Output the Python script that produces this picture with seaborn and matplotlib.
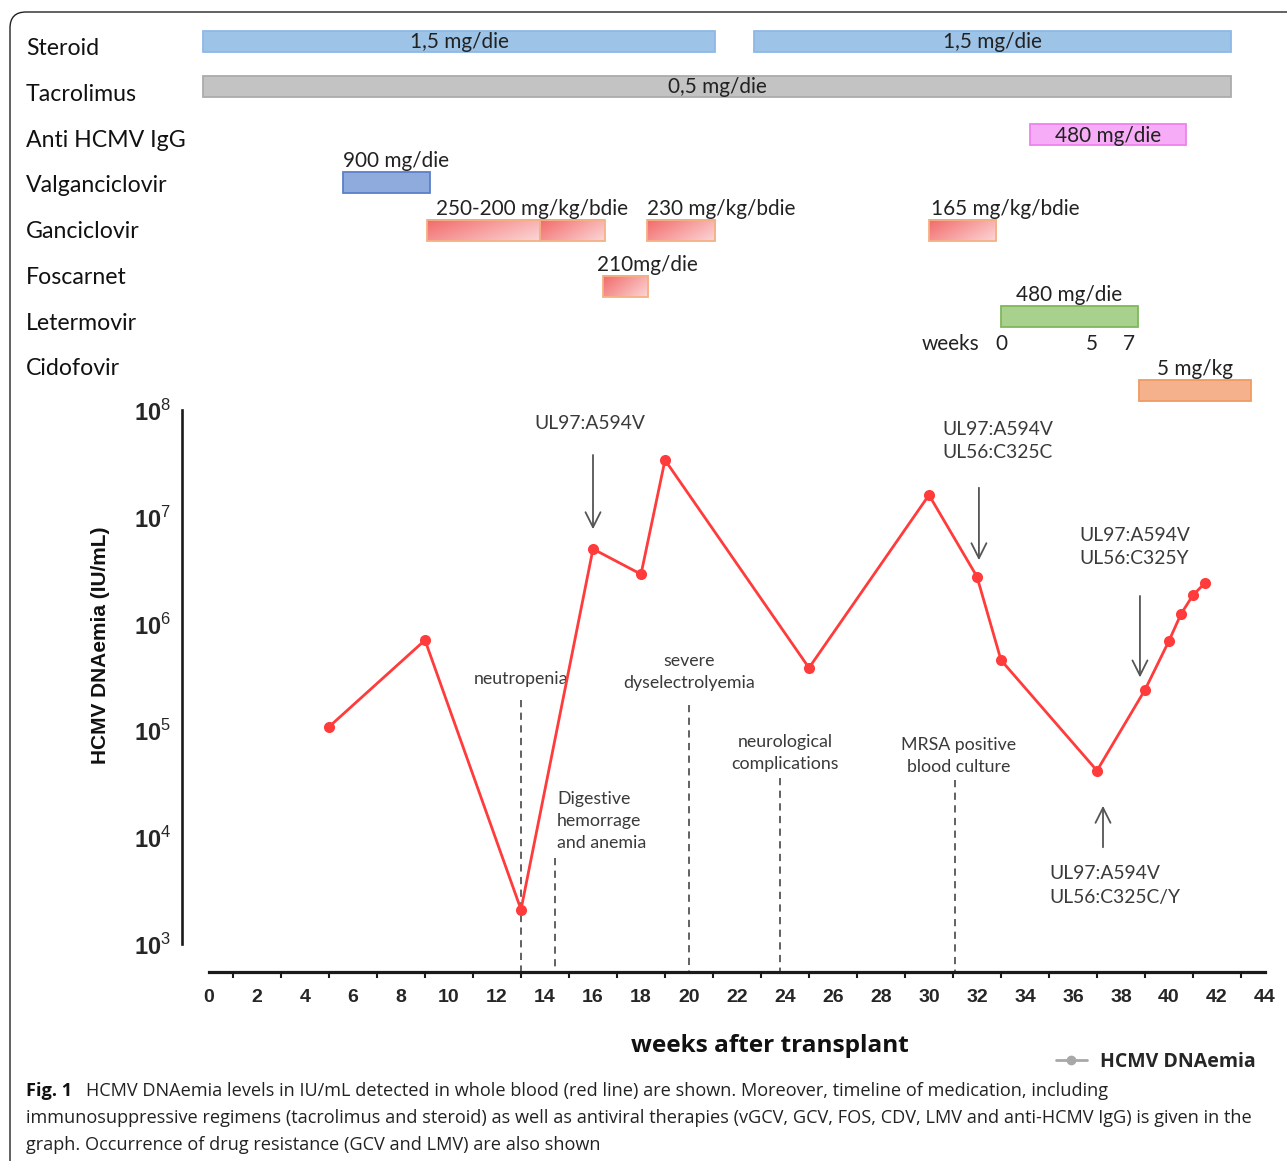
import numpy as np
import pandas as pd
import matplotlib
matplotlib.use("Agg")
import matplotlib.pyplot as plt
import seaborn as sns
from matplotlib.patches import Rectangle, FancyBboxPatch
from matplotlib.lines import Line2D
from matplotlib.colors import LinearSegmentedColormap
from matplotlib.ticker import MultipleLocator, LogLocator, NullLocator, FuncFormatter
import matplotlib.transforms as mtrans

# ---------------- data ----------------
weeks = [5, 9, 13, 16, 18, 19, 25, 30, 32, 33, 37, 39, 40, 40.5, 41, 41.5]
dnaemia = [1.08e5, 7.0e5, 2.1e3, 5.0e6, 2.9e6, 3.4e7, 3.85e5, 1.6e7, 2.75e6,
           4.55e5, 4.2e4, 2.4e5, 6.9e5, 1.23e6, 1.85e6, 2.4e6]

drugs = ["Steroid", "Tacrolimus", "Anti HCMV IgG", "Valganciclovir",
         "Ganciclovir", "Foscarnet", "Letermovir", "Cidofovir"]
bar_drug = ["Steroid", "Steroid", "Tacrolimus", "Anti HCMV IgG", "Valganciclovir",
            "Ganciclovir", "Ganciclovir", "Ganciclovir", "Ganciclovir",
            "Foscarnet", "Letermovir", "Cidofovir"]
bar_start = [-0.25, 22.7, -0.25, 34.2, 5.6, 9.1, 13.8, 18.25, 30.0, 16.4, 33.0, 38.75]
bar_end = [21.1, 42.6, 42.6, 40.7, 9.2, 13.8, 16.5, 21.1, 32.8, 18.3, 38.7, 43.4]
bar_dose = ["1,5 mg/die", "1,5 mg/die", "0,5 mg/die", "480 mg/die", "900 mg/die",
            "250-200 mg/kg/bdie", "", "230 mg/kg/bdie", "165 mg/kg/bdie",
            "210mg/die", "480 mg/die", "5 mg/kg"]

letermovir_week_labels = ["0", "5", "7"]
letermovir_week_values = [0, 5, 7]

event_weeks = [13, 14.4, 20, 23.8, 31.1]
event_labels = ["neutropenia", "Digestive\nhemorrage\nand anemia",
                "severe\ndyselectrolyemia", "neurological\ncomplications",
                "MRSA positive\nblood culture"]

mutation_weeks = [16, 32.08, 38.79, 37.25]
mutation_labels = ["UL97:A594V", "UL97:A594V\nUL56:C325C",
                   "UL97:A594V\nUL56:C325Y", "UL97:A594V\nUL56:C325C/Y"]

x_ticks = list(range(0, 45, 2))
y_decades = [3, 4, 5, 6, 7, 8]

caption_bold = "Fig. 1"
caption_lines = [
    "HCMV DNAemia levels in IU/mL detected in whole blood (red line) are shown. Moreover, timeline of medication, including",
    "immunosuppressive regimens (tacrolimus and steroid) as well as antiviral therapies (vGCV, GCV, FOS, CDV, LMV and anti-HCMV IgG) is given in the",
    "graph. Occurrence of drug resistance (GCV and LMV) are also shown",
]

# ---------------- styles ----------------
W, H, DPI = 1287, 1161, 100
sns.set_theme(style="white")
plt.rcParams["font.family"] = ["Lato", "DejaVu Sans"]
plt.rcParams["mathtext.fontset"] = "custom"
plt.rcParams["mathtext.rm"] = "Liberation Sans"
plt.rcParams["mathtext.bf"] = "Liberation Sans:bold"

drug_style = {
    "Steroid": dict(fc="#9DC3E6", ec="#8DB9E8", off=-0.12, grad=False),
    "Tacrolimus": dict(fc="#C3C3C3", ec="#ABABAB", off=-0.14, grad=False),
    "Anti HCMV IgG": dict(fc="#F7ACF7", ec="#EE82EE", off=-0.08, grad=False),
    "Valganciclovir": dict(fc="#8FAADC", ec="#5B7FC9", off=-0.03, grad=False),
    "Ganciclovir": dict(fc="#F79A9A", ec="#F4B183", off=0.01, grad=True),
    "Foscarnet": dict(fc="#F79A9A", ec="#F4B183", off=0.24, grad=True),
    "Letermovir": dict(fc="#A9D18E", ec="#7FB85A", off=-0.11, grad=False),
    "Cidofovir": dict(fc="#F5B18C", ec="#F09A62", off=0.51, grad=False),
}
dose_place = ["in", "in", "in", "in", "left", "left", None, "left", "left", "left", "center", "center"]
dose_dx = [0, 0, 0, 0, 0, 0.37, 0, 0, 0.08, -0.25, 0, 0]
BAR_H = 0.46
TXT = "#3A3A3A"

fig = plt.figure(figsize=(W / DPI, H / DPI), dpi=DPI)
renderer = fig.canvas.get_renderer()


def fit(t, target_px):
    bb = t.get_window_extent(renderer)
    t.set_fontsize(t.get_fontsize() * target_px / bb.width)
    return t.get_fontsize()


L, R = 209 / W, 1265 / W
ax = fig.add_axes([L, 1 - 944 / H, R - L, (944 - 410) / H])
axm = fig.add_axes([L, 1 - 410 / H, R - L, 410 / H])

# ---------------- medication timeline ----------------
axm.set_xlim(0, 44)
axm.set_ylim(7.943, -1.028)
axm.axis("off")
row_of = {d: i for i, d in enumerate(drugs)}
lab_tf = mtrans.blended_transform_factory(fig.transFigure, axm.transData)

t0 = axm.text(26 / W, 3, "Valganciclovir", transform=lab_tf, fontsize=15)
row_fs = fit(t0, 141)
t0.remove()
for d in drugs:
    axm.text(26 / W, row_of[d] + 0.04, d, transform=lab_tf, fontsize=row_fs,
             ha="left", va="center", color="#111111")

cmap_g = LinearSegmentedColormap.from_list("g", ["#F26A6A", "#FCD6D6"])
gx, gy = np.meshgrid(np.linspace(0, 1, 80), np.linspace(0, 1, 20))
grad = 0.65 * gx + 0.35 * gy

td = axm.text(0, 0, "250-200 mg/kg/bdie", fontsize=15)
dose_fs = fit(td, 193)
td.remove()

for i, d in enumerate(bar_drug):
    st = drug_style[d]
    yc = row_of[d] + st["off"]
    x0, x1 = bar_start[i], bar_end[i]
    rect = Rectangle((x0, yc - BAR_H / 2), x1 - x0, BAR_H,
                     fc=("none" if st["grad"] else st["fc"]), ec=st["ec"], lw=1.3,
                     clip_on=False, zorder=3)
    axm.add_patch(rect)
    if st["grad"]:
        im = axm.imshow(grad, cmap=cmap_g, extent=(x0, x1, yc + BAR_H / 2, yc - BAR_H / 2),
                        origin="upper", aspect="auto", zorder=2, clip_on=False)
        clip = Rectangle((x0, yc - BAR_H / 2), x1 - x0, BAR_H, transform=axm.transData)
        im.set_clip_path(clip)
    place = dose_place[i]
    if place == "in":
        axm.text((x0 + x1) / 2, yc + 0.02, bar_dose[i], fontsize=dose_fs, ha="center",
                 va="center", color="#222222", zorder=4)
    elif place == "left":
        axm.text(x0 + dose_dx[i], yc - 0.47, bar_dose[i], fontsize=dose_fs, ha="left",
                 va="center", color="#222222", zorder=4)
    elif place == "center":
        axm.text((x0 + x1) / 2, yc - 0.47, bar_dose[i], fontsize=dose_fs, ha="center",
                 va="center", color="#222222", zorder=4)
axm.set_xlim(0, 44)
axm.set_ylim(7.943, -1.028)

# letermovir week scale
lmv_i = bar_drug.index("Letermovir")
lmv0 = bar_start[lmv_i]
lmv_scale = 0.76
axm.text(lmv0 - 0.9, 6.5, "weeks", fontsize=dose_fs, ha="right", va="center", color="#222222")
for lab, v in zip(letermovir_week_labels, letermovir_week_values):
    axm.text(lmv0 + v * lmv_scale, 6.5, lab, fontsize=dose_fs, ha="center", va="center",
             color="#222222")

# ---------------- DNAemia line ----------------
df = pd.DataFrame({"week": weeks, "dnaemia": dnaemia})
ax.set_yscale("log")
sns.lineplot(data=df, x="week", y="dnaemia", ax=ax, color="#FF3B3B", lw=2.0,
             marker="o", markersize=8, markeredgewidth=0, legend=False, zorder=5)
ax.set_xlim(0, 44)
ax.set_ylim(1e3, 1e8)
for s in ["top", "right"]:
    ax.spines[s].set_visible(False)
ax.spines["left"].set_position(("outward", 27 * 0.72))
ax.spines["bottom"].set_position(("outward", 28 * 0.72))
ax.spines["left"].set_linewidth(1.9)
ax.spines["bottom"].set_linewidth(2.3)
ax.spines["left"].set_color("#1A1A1A")
ax.spines["bottom"].set_color("#1A1A1A")

ax.set_xticks(x_ticks)
ax.xaxis.set_minor_locator(MultipleLocator(1))
ax.tick_params(axis="x", which="major", direction="out", length=7, width=1.8,
               color="#1A1A1A", pad=5, labelsize=14)
ax.tick_params(axis="x", which="minor", direction="out", length=4, width=1.5,
               color="#1A1A1A", bottom=True)
for lbl in ax.get_xticklabels():
    lbl.set_fontfamily("Liberation Sans")
    lbl.set_fontweight("bold")
ax.set_yticks([10.0 ** d for d in y_decades])
ax.yaxis.set_minor_locator(NullLocator())
ax.yaxis.set_major_formatter(FuncFormatter(
    lambda v, p: r"$\mathbf{10}^{\mathrm{%d}}$" % round(np.log10(v))))
ax.tick_params(axis="y", which="major", direction="out", length=6, width=1.8,
               color="#1A1A1A", pad=2, labelsize=17)
ax.tick_params(axis="y", which="minor", left=False)
ax.set_xlabel("")
ax.set_ylabel("")
ax.grid(False)

ax.text((100 - 209) / 1056, (944 - 645) / 534, "HCMV DNAemia (IU/mL)", transform=ax.transAxes,
        rotation=90, ha="center", va="center", fontsize=15, fontweight="bold",
        family="Liberation Sans", color="#111111")
tx = ax.text((770 - 209) / 1056, (944 - 1046) / 534, "weeks after transplant",
             transform=ax.transAxes, ha="center", va="center", fontsize=17,
             fontweight="bold", family="Open Sans", color="#111111")
fit(tx, 278)

bt = mtrans.blended_transform_factory(ax.transData, ax.transAxes)

# events (dashed lines + labels)
ev_text_dx = [0, 0.1, 0, 0.2, 0.15]
ev_text_y = [0.496, 0.2303, 0.509, 0.3577, 0.352]
ev_ha = ["center", "left", "center", "center", "center"]
ev_line_top = [0.457, 0.161, 0.4476, 0.311, 0.307]
te = ax.text(0, 0, "neutropenia", transform=bt, fontsize=12)
ev_fs = fit(te, 94)
te.remove()
for w, lab, dx, ty, ha, lt in zip(event_weeks, event_labels, ev_text_dx, ev_text_y, ev_ha, ev_line_top):
    ax.plot([w, w], [lt, -0.052], transform=bt, ls=(0, (4, 3)), color="#555555",
            lw=1.3, clip_on=False, zorder=2)
    ax.text(w + dx, ty, lab, transform=bt, ha=ha, va="center", fontsize=ev_fs,
            color=TXT, linespacing=1.45)

# mutations (arrows + labels)
mu_from = [0.921, 0.8596, 0.657, 0.176]
mu_to = [0.7715, 0.7135, 0.494, 0.264]
mu_tx = [15.875, 30.54, 36.25, 35.0]
mu_ty = [0.974, 0.942, 0.7434, 0.1096]
mu_ha = ["center", "left", "left", "left"]
tm = ax.text(0, 0, "UL97:A594V", transform=bt, fontsize=14)
mu_fs = fit(tm, 111)
tm.remove()
for w, lab, yf, yt, tx_, ty_, ha in zip(mutation_weeks, mutation_labels, mu_from, mu_to, mu_tx, mu_ty, mu_ha):
    ax.annotate("", xy=(w, yt), xytext=(w, yf), xycoords=bt, textcoords=bt,
                arrowprops=dict(arrowstyle="->,head_length=0.9,head_width=0.45",
                                color="#555555", lw=1.3), annotation_clip=False)
    ax.text(tx_, ty_, lab, transform=bt, ha=ha, va="center", fontsize=mu_fs,
            color=TXT, linespacing=1.45)

# legend
handle = Line2D([], [], color="#A8A8A8", lw=2, marker="o", markersize=6)
fig.legend(handles=[handle], labels=["HCMV DNAemia"], loc="center left",
           bbox_to_anchor=(1038 / W, 1 - 1062 / H), frameon=False, handlelength=1.6,
           handletextpad=0.7, prop=dict(family="Open Sans", weight="bold", size=14))

# frame
fig.add_artist(FancyBboxPatch((10, -30), 1330, 1161 - 12 + 30,
                              boxstyle="round,pad=0,rounding_size=16",
                              transform=mtrans.IdentityTransform(), fill=False,
                              ec="#222222", lw=1.0))

# caption
cap_fs = 11
c2 = fig.text(26 / W, 1 - 1118 / H, caption_lines[1], fontsize=cap_fs, family="Open Sans",
              ha="left", va="center", color="#222222")
cap_fs = fit(c2, 1229)
fig.text(26 / W, 1 - 1091 / H, caption_bold, fontsize=cap_fs, family="Open Sans",
         fontweight="bold", ha="left", va="center", color="#111111")
fig.text(86 / W, 1 - 1091 / H, caption_lines[0], fontsize=cap_fs, family="Open Sans",
         ha="left", va="center", color="#222222")
fig.text(26 / W, 1 - 1145 / H, caption_lines[2], fontsize=cap_fs, family="Open Sans",
         ha="left", va="center", color="#222222")

fig.savefig("out.png", dpi=DPI)
